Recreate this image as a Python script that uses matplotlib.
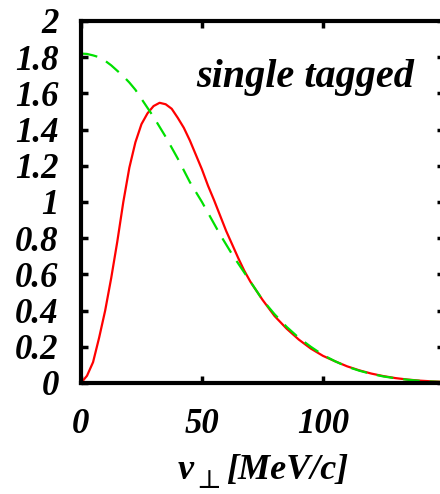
import matplotlib
matplotlib.use("Agg")
import matplotlib.pyplot as plt
from matplotlib.ticker import FixedLocator

plt.rcParams["font.family"] = ["Liberation Serif", "DejaVu Serif"]
plt.rcParams["font.weight"] = "bold"
plt.rcParams["font.style"] = "italic"

# transverse momentum grid [MeV/c]
p_perp = [0, 2.5, 5, 7.5, 10, 12.5, 15, 17.5, 20, 22.5, 25, 27.5, 30, 32.5,
          35, 37.5, 40, 42.5, 45, 47.5, 50, 52.5, 55, 57.5, 60, 62.5, 65,
          67.5, 70, 75, 80, 85, 90, 95, 100, 105, 110, 115, 120, 125, 130,
          135, 140, 145, 150]

# distribution for the single tagged case
dist_red = [0.0, 0.04, 0.115, 0.25, 0.40, 0.58, 0.78, 1.00, 1.19, 1.33,
            1.43, 1.49, 1.53, 1.548, 1.54, 1.515, 1.465, 1.41, 1.34, 1.26,
            1.18, 1.09, 1.01, 0.925, 0.84, 0.765, 0.69, 0.62, 0.56, 0.46,
            0.37, 0.30, 0.24, 0.19, 0.15, 0.12, 0.092, 0.07, 0.052, 0.038,
            0.027, 0.019, 0.013, 0.009, 0.006]

# comparison distribution
dist_green = [1.82, 1.818, 1.81, 1.80, 1.78, 1.755, 1.725, 1.695, 1.66, 1.62,
              1.57, 1.52, 1.47, 1.415, 1.36, 1.30, 1.24, 1.175, 1.11, 1.055,
              1.00, 0.94, 0.88, 0.82, 0.765, 0.71, 0.66, 0.61, 0.56, 0.46,
              0.38, 0.31, 0.25, 0.20, 0.155, 0.12, 0.09, 0.068, 0.05, 0.036,
              0.026, 0.018, 0.012, 0.008, 0.005]

x_ticks = [0, 50, 100]
x_tick_labels = ["0", "50", "100"]
y_ticks = [0, 0.2, 0.4, 0.6, 0.8, 1, 1.2, 1.4, 1.6, 1.8, 2]
y_tick_labels = ["0", "0.2", "0.4", "0.6", "0.8", "1", "1.2", "1.4", "1.6", "1.8", "2"]

W, H = 440, 494
fig = plt.figure(figsize=(W / 100, H / 100), dpi=100)
ax = fig.add_axes([0.184, 0.2247, 0.825, 0.7328])

ax.plot(p_perp, dist_red, color="#ff0000", lw=1.6, solid_capstyle="butt")
ax.plot(p_perp, dist_green, color="#00e000", lw=1.6, dashes=(7.5, 4.5))

ax.set_xlim(0, 150)
ax.set_ylim(0, 2)

ax.xaxis.set_major_locator(FixedLocator(x_ticks))
ax.yaxis.set_major_locator(FixedLocator(y_ticks))
ax.set_xticklabels(x_tick_labels)
ax.set_yticklabels(y_tick_labels)

for s in ax.spines.values():
    s.set_linewidth(3.0)

ax.tick_params(axis="both", which="major", direction="in", length=5, width=2.5,
               top=True, right=True, labelsize=25)
ax.tick_params(axis="y", pad=16)
ax.tick_params(axis="x", pad=18)

for lab in ax.get_xticklabels() + ax.get_yticklabels():
    lab.set_fontweight("bold")
    lab.set_fontstyle("italic")

ax.text(0.617, 0.843, "single tagged", transform=ax.transAxes, fontsize=29,
        fontweight="bold", fontstyle="italic", ha="center", va="center")

# axis title: v with a perpendicular subscript, then the unit
def px(x, y):
    return x / W, 1 - y / H

fig.text(*px(178, 479), "v", fontsize=26, fontweight="bold",
         fontstyle="italic", ha="left", va="baseline")
fig.text(*px(196, 488), "\u22a5", fontsize=19, family="DejaVu Serif",
         fontweight="normal", fontstyle="normal", ha="left", va="baseline")
fig.text(*px(226, 479), "[MeV/c]", fontsize=26, fontweight="bold",
         fontstyle="italic", ha="left", va="baseline")

fig.savefig("out.png", dpi=100)
